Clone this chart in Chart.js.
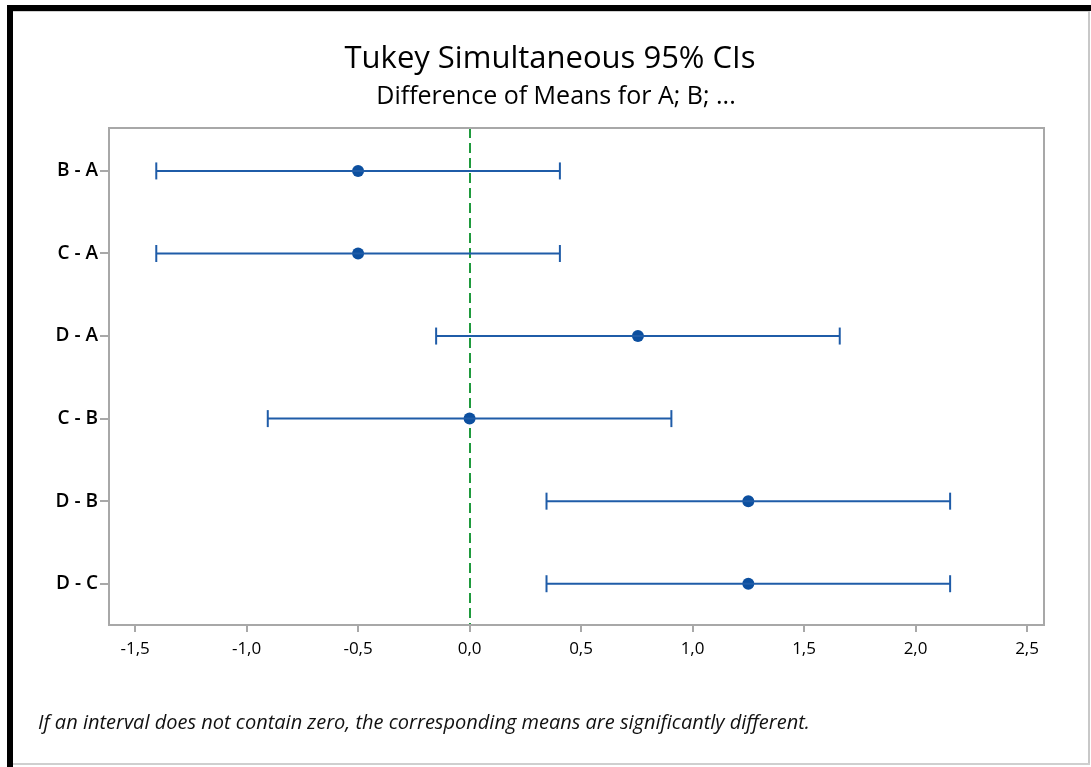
<!DOCTYPE html>
<html>
<head>
<meta charset="utf-8">
<script src="https://cdn.jsdelivr.net/npm/chart.js@4"></script>
<style>
  html, body { margin: 0; padding: 0; background: #fff; }
  #wrap { position: relative; width: 1091px; height: 767px; overflow: hidden; }
  #chart { position: absolute; left: 0; top: 0; }
  .edge { position: absolute; pointer-events: none; }
</style>
</head>
<body>
<div id="wrap">
  <canvas id="chart" width="1091" height="767"></canvas>
  <div class="edge" style="left:7px;top:5px;width:1084px;height:6px;background:#000"></div>
  <div class="edge" style="left:7px;top:5px;width:6px;height:762px;background:#000"></div>
  <div class="edge" style="left:13px;top:11px;width:1075px;height:1px;background:#d0d0d0"></div>
  <div class="edge" style="left:1088px;top:11px;width:2px;height:754px;background:#c8c8c8"></div>
  <div class="edge" style="left:13px;top:763px;width:1077px;height:2px;background:#cfcfcf"></div>
</div>
<script>
// Tukey pairwise comparisons (difference of means and 95% simultaneous CI)
const comparisons = ['B - A', 'C - A', 'D - A', 'C - B', 'D - B', 'D - C'];
const diffMeans = [-0.5, -0.5, 0.755, 0.0, 1.25, 1.25];
const lowerCI = [-1.405, -1.405, -0.15, -0.905, 0.345, 0.345];
const upperCI = [0.405, 0.405, 1.66, 0.905, 2.155, 2.155];
const xTickValues = [-1.5, -1.0, -0.5, 0.0, 0.5, 1.0, 1.5, 2.0, 2.5];
const zeroLine = 0;

const titleText = 'Tukey Simultaneous 95% CIs';
const subtitleText = 'Difference of Means for A; B; ...';
const noteText = 'If an interval does not contain zero, the corresponding means are significantly different.';

const blue = '#1f5ca8';
const markBlue = '#0c4f9f';
const green = '#1f9a3d';
const frameGray = '#a8a8a8';
const font = "'Open Sans', 'Noto Sans', sans-serif";

// interval lines with vertical caps at both ends
const intervalSets = comparisons.map((c, i) => ({
  label: c,
  data: [{ x: lowerCI[i], y: i }, { x: upperCI[i], y: i }],
  showLine: true,
  borderColor: blue,
  borderWidth: 2,
  pointStyle: 'line',
  rotation: 90,
  pointRadius: 8.5,
  pointBorderWidth: 2,
  pointBorderColor: blue,
  pointBackgroundColor: blue
}));

const meanSet = {
  label: 'mean',
  data: comparisons.map((c, i) => ({ x: diffMeans[i], y: i })),
  showLine: false,
  pointStyle: 'circle',
  pointRadius: 6,
  pointBorderWidth: 0,
  pointBackgroundColor: markBlue
};

// dashed reference line at zero, drawn under the data
const zeroLinePlugin = {
  id: 'zeroLine',
  beforeDatasetsDraw(chart) {
    const { ctx, chartArea, scales } = chart;
    const px = Math.round(scales.x.getPixelForValue(zeroLine));
    ctx.save();
    ctx.strokeStyle = green;
    ctx.lineWidth = 2;
    ctx.setLineDash([10, 5]);
    ctx.beginPath();
    ctx.moveTo(px, chartArea.top);
    ctx.lineTo(px, chartArea.bottom);
    ctx.stroke();
    ctx.restore();
  }
};

// box around the plot area, titles and footnote
const decorations = {
  id: 'decorations',
  afterDraw(chart) {
    const { ctx, chartArea } = chart;
    ctx.save();
    ctx.strokeStyle = frameGray;
    ctx.lineWidth = 2;
    ctx.strokeRect(chartArea.left, chartArea.top, chartArea.right - chartArea.left, chartArea.bottom - chartArea.top);

    ctx.fillStyle = '#000';
    ctx.textAlign = 'center';
    ctx.textBaseline = 'middle';
    ctx.font = '500 31px ' + font;
    ctx.fillText(titleText, 550, 59);
    ctx.font = '25px ' + font;
    ctx.fillText(subtitleText, 556, 97);

    ctx.fillStyle = '#111';
    ctx.textAlign = 'left';
    ctx.font = 'italic 20px ' + font;
    ctx.fillText(noteText, 38, 723);
    ctx.restore();
  }
};

new Chart(document.getElementById('chart'), {
  type: 'scatter',
  data: { datasets: [...intervalSets, meanSet] },
  options: {
    responsive: false,
    animation: false,
    layout: { padding: { left: 0, right: 47, top: 128, bottom: 0 } },
    plugins: {
      legend: { display: false },
      tooltip: { enabled: false },
      title: { display: false }
    },
    scales: {
      x: {
        type: 'linear',
        min: -1.617,
        max: 2.576,
        afterBuildTicks(scale) { scale.ticks = xTickValues.map(v => ({ value: v })); },
        afterFit(scale) { scale.height = 142; },
        grid: { drawOnChartArea: false, drawTicks: true, tickLength: 7, color: frameGray, lineWidth: 2 },
        border: { display: false },
        ticks: {
          color: '#000',
          padding: 7,
          font: { family: font, size: 17 },
          callback: v => v.toFixed(1).replace('.', ',')
        }
      },
      y: {
        type: 'linear',
        reverse: true,
        min: -0.52,
        max: 5.5,
        afterBuildTicks(scale) { scale.ticks = comparisons.map((c, i) => ({ value: i })); },
        afterFit(scale) { scale.width = 109; },
        grid: { drawOnChartArea: false, drawTicks: true, tickLength: 9, color: frameGray, lineWidth: 2 },
        border: { display: false },
        ticks: {
          color: '#000',
          padding: 2,
          font: { family: font, size: 19, weight: '600' },
          callback: v => comparisons[v]
        }
      }
    }
  },
  plugins: [zeroLinePlugin, decorations]
});
</script>
</body>
</html>
